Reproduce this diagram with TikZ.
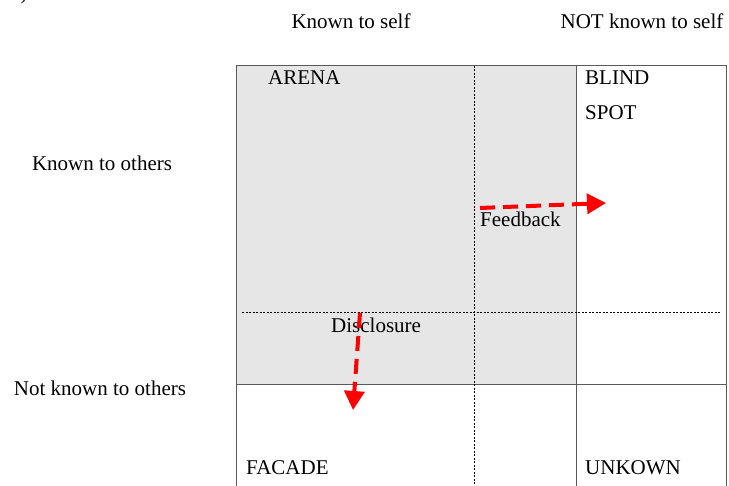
\documentclass[tikz,border=0pt]{standalone}
\usepackage{fontspec}
\setmainfont{Liberation Serif}
\usetikzlibrary{arrows.meta}
\definecolor{cellgray}{RGB}{230,230,230}
\definecolor{linegray}{RGB}{90,90,90}
\definecolor{arrowred}{RGB}{255,0,0}
\begin{document}
\begin{tikzpicture}[x=1pt,y=-1pt,
  lbl/.style={font=\fontsize{21}{25}\selectfont, inner sep=0pt, text=black},
  cell/.style={lbl, anchor=west},
  solidline/.style={draw=linegray, line width=1pt},
  dotline/.style={draw=black, line width=0.8pt, dash pattern=on 2pt off 1.5pt},
  redarrow/.style={draw=arrowred, line width=4pt, dash pattern=on 15pt off 8pt,
     -{Triangle[length=19pt,width=20pt,fill=arrowred]}}]
\useasboundingbox (0,0) rectangle (729,486);
% shading of the area known to others
\fill[cellgray] (236,66) rectangle (576,385);
% grid
\draw[solidline] (236,486) -- (236,66) -- (726,66) -- (726,486);
\draw[solidline] (576,66) -- (576,486);
\draw[solidline] (236,385) -- (726,385);
\draw[dotline] (474,66) -- (474,486);
\draw[dotline] (242,312) -- (720,312);
% stray mark top-left
\node[lbl] (mark) at (24,-6) {)};
% headers
\node[lbl] (kself) at (351,21) {Known to self};
\node[lbl] (nkself) at (642,21) {NOT known to self};
\node[lbl] (kothers) at (102,163) {Known to others};
\node[lbl] (nkothers) at (100,388) {Not known to others};
% cell labels
\node[cell] (arena) at (268,78) {ARENA};
\node[cell] (blind) at (585,78) {BLIND};
\node[cell] (spot) at (585,113) {SPOT};
\node[cell] (feedback) at (480,219) {Feedback};
\node[cell] (disclosure) at (331,325) {Disclosure};
\node[cell] (facade) at (246,468) {FACADE};
\node[cell] (unknown) at (585,468) {UNKOWN};
% arrows
\coordinate (fbs) at (480,208);
\coordinate (fbe) at (606,203);
\coordinate (dss) at (360,313);
\coordinate (dse) at (353,410);
\draw[redarrow] (fbs) -- (fbe);
\draw[redarrow] (dss) -- (dse);
\end{tikzpicture}
\end{document}
